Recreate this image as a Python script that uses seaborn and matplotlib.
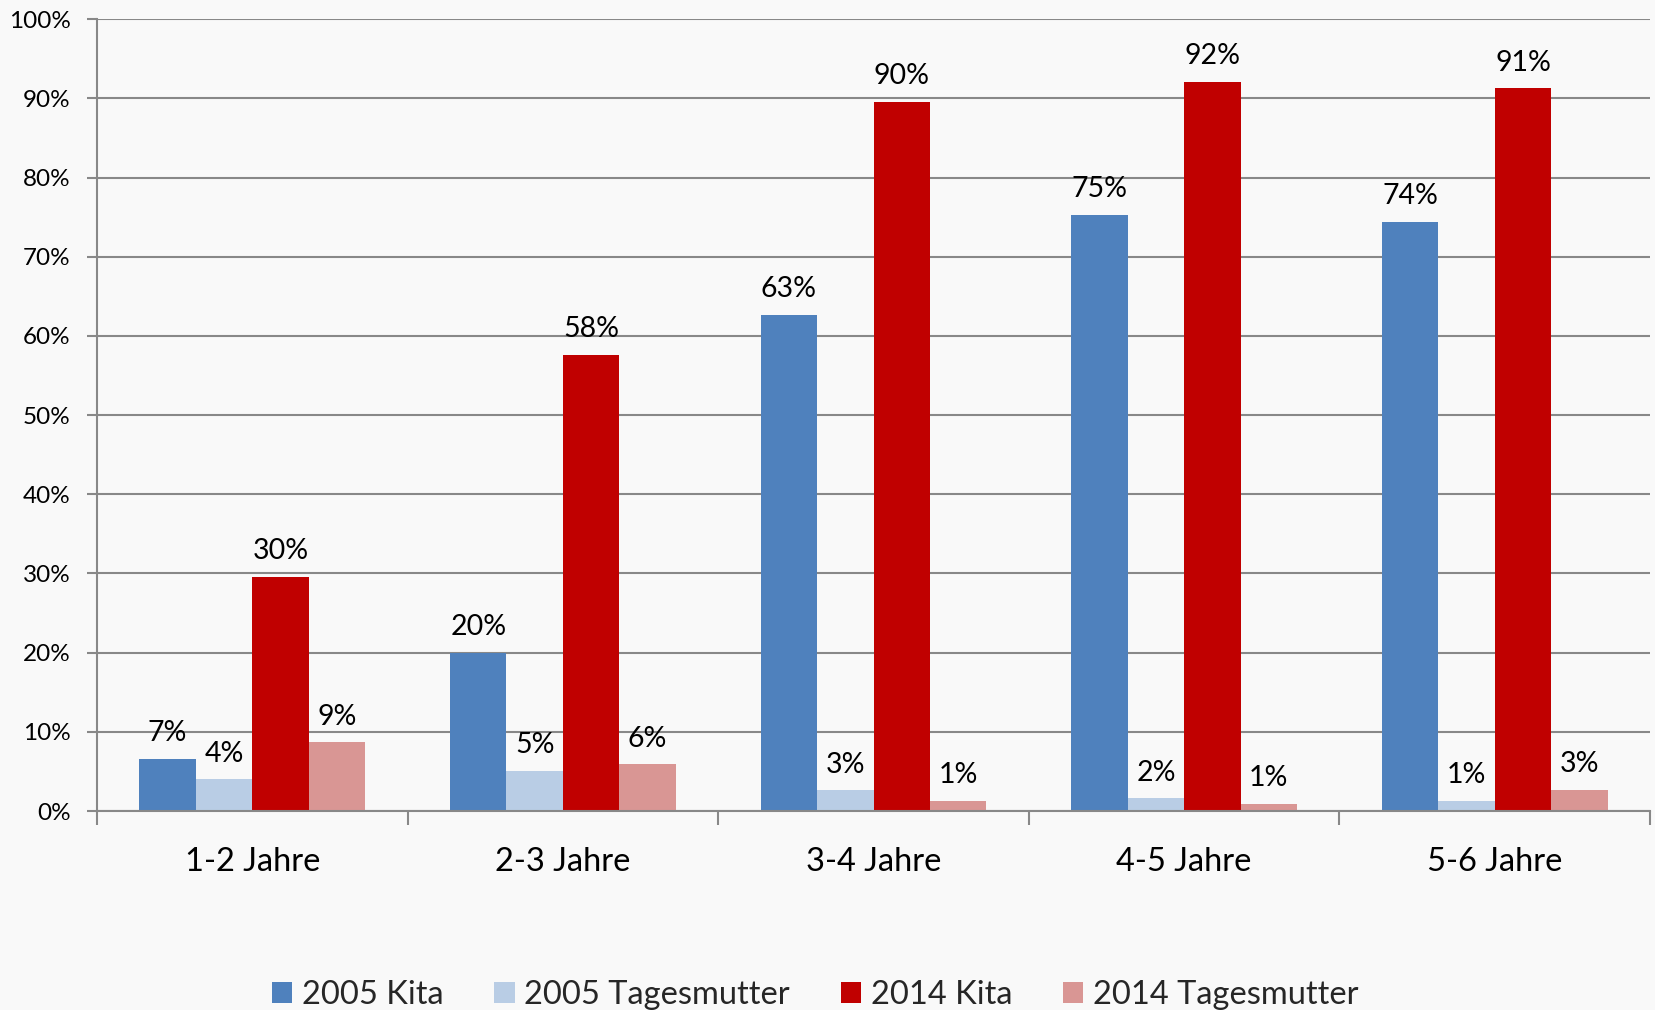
import matplotlib
matplotlib.use("Agg")
import matplotlib.pyplot as plt
import seaborn as sns
import pandas as pd
from matplotlib.patches import Patch
from matplotlib.ticker import FixedLocator, PercentFormatter

categories = ["1-2 Jahre", "2-3 Jahre", "3-4 Jahre", "4-5 Jahre", "5-6 Jahre"]
series = ["2005 Kita", "2005 Tagesmutter", "2014 Kita", "2014 Tagesmutter"]
kita_2005 = [6.6, 20.0, 62.7, 75.3, 74.4]
tages_2005 = [4.0, 5.1, 2.6, 1.6, 1.3]
kita_2014 = [29.6, 57.6, 89.6, 92.1, 91.3]
tages_2014 = [8.7, 5.9, 1.3, 0.9, 2.7]
colors = ["#4F81BD", "#B9CDE5", "#C00000", "#D99694"]

values = [kita_2005, tages_2005, kita_2014, tages_2014]
rows = []
for s, vals in zip(series, values):
    for c, v in zip(categories, vals):
        rows.append({"Alter": c, "Serie": s, "Wert": v})
df = pd.DataFrame(rows)

sns.set_theme(style="white")
plt.rcParams["font.family"] = ["Lato", "DejaVu Sans"]

bg = "#F9F9F9"
grid_c = "#888888"
fig = plt.figure(figsize=(16.55, 10.10), dpi=100, facecolor=bg)
ax = fig.add_axes([0.0586, 0.197, 0.9384, 0.784])
ax.set_facecolor(bg)

sns.barplot(data=df, x="Alter", y="Wert", hue="Serie", order=categories,
            hue_order=series, palette=colors, width=0.727, gap=0,
            saturation=1, ax=ax, legend=False, edgecolor="none", linewidth=0)

for cont, vals in zip(ax.containers, values):
    ax.bar_label(cont, labels=[f"{v:.0f}%" for v in vals], padding=9,
                 fontsize=20.5, color="black")

ax.set_ylim(0, 100)
ax.set_xlim(-0.5, len(categories) - 0.5)
ax.yaxis.set_major_locator(FixedLocator(list(range(0, 101, 10))))
ax.yaxis.set_major_formatter(PercentFormatter(decimals=0))
ax.grid(axis="y", color=grid_c, linewidth=1.5)
ax.set_axisbelow(True)
ax.set_xlabel("")
ax.set_ylabel("")

for side in ["top", "right"]:
    ax.spines[side].set_visible(False)
for side in ["left", "bottom"]:
    ax.spines[side].set_color(grid_c)
    ax.spines[side].set_linewidth(1.5)

ax.tick_params(axis="y", which="major", left=True, length=7, width=1.5,
               color=grid_c, pad=12, labelsize=17.5, labelcolor="black")
ax.set_xticks(range(len(categories)))
ax.set_xticklabels(categories)
ax.set_xticks([i - 0.5 for i in range(len(categories) + 1)], minor=True)
ax.tick_params(axis="x", which="major", length=0, pad=26, labelsize=23.5,
               labelcolor="black")
ax.tick_params(axis="x", which="minor", bottom=True, length=10, width=1.5,
               color=grid_c)

handles = [Patch(facecolor=c, edgecolor="none") for c in colors]
fig.legend(handles, series, loc="center", bbox_to_anchor=(0.4925, 0.015),
           ncol=4, frameon=False, fontsize=23.5, handlelength=0.62,
           handleheight=0.62, handletextpad=0.3, columnspacing=1.55)

fig.savefig("out.png", dpi=100, facecolor=bg)
